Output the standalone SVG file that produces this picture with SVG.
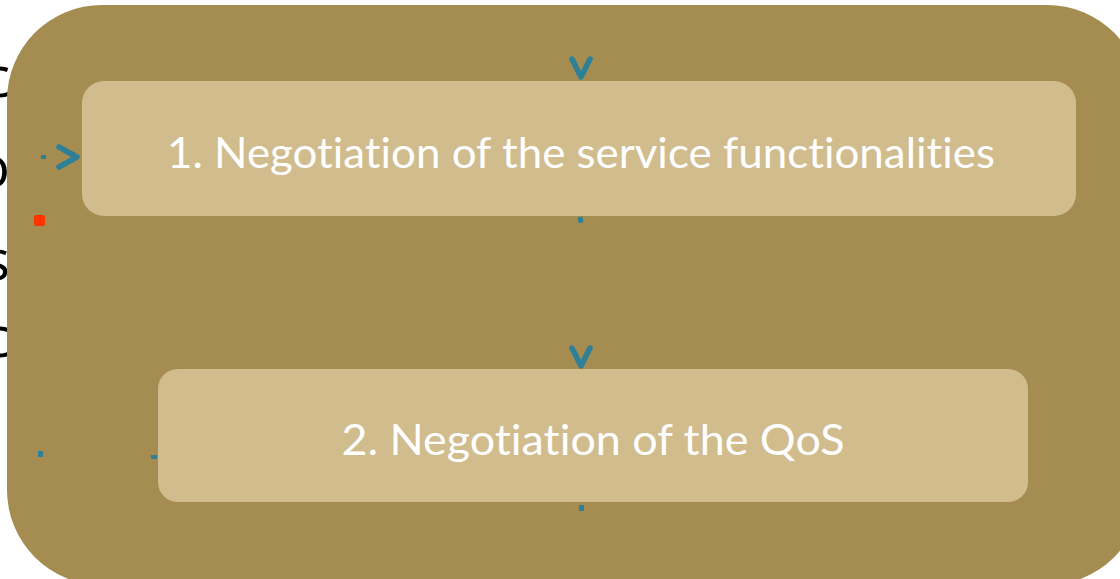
<svg xmlns="http://www.w3.org/2000/svg" width="1120" height="579" viewBox="0 0 1120 579">
<style>
.bg{fill:#a58d52}
.box{fill:#d1bc8e}
.lbl{font-family:"Lato","Liberation Sans",sans-serif;font-size:42px;fill:#ffffff;text-anchor:middle;font-variant-ligatures:none}
.frag{font-family:"Open Sans","Liberation Sans",sans-serif;font-size:56px;fill:#000000;text-anchor:end}
.chev{fill:none;stroke:#2e8096;stroke-width:5.5;stroke-linecap:round;stroke-linejoin:round}
.dot{fill:#2e8096}
</style>
<rect width="1120" height="579" fill="#ffffff"/>
<g id="behind-text">
<text class="frag" x="10" y="97">c</text>
<text class="frag" x="10" y="187">o</text>
<text class="frag" x="10" y="280">s</text>
<text class="frag" x="10" y="357">c</text>
</g>
<g id="container">
<rect class="bg" x="7" y="5" width="1135" height="580" rx="95" ry="95"/>
</g>
<g id="node1">
<rect class="box" x="82" y="81" width="994" height="135" rx="22" ry="22"/>
<text class="lbl" x="581" y="168" textLength="828" lengthAdjust="spacingAndGlyphs">1. Negotiation of the service functionalities</text>
</g>
<g id="node2">
<rect class="box" x="158" y="369" width="870" height="133" rx="20" ry="20"/>
<text class="lbl" x="593" y="455" textLength="503" lengthAdjust="spacingAndGlyphs">2. Negotiation of the QoS</text>
</g>
<g id="connectors">
<polyline class="chev" points="572,59 581,77 590,59"/>
<polyline class="chev" points="572,348 581,366 590,348"/>
<polyline class="chev" points="59,147 77,157 59,167"/>
<rect class="dot" x="41" y="155" width="5" height="4"/>
<rect class="dot" x="578" y="217" width="5" height="6" transform="rotate(-12 580 220)"/>
<rect class="dot" x="579" y="505" width="5" height="6"/>
<rect class="dot" x="38" y="451" width="5" height="6"/>
<rect class="dot" x="151" y="455" width="6" height="4"/>
<rect x="34" y="215" width="11" height="11" rx="2" fill="#ff3300"/>
</g>
</svg>
